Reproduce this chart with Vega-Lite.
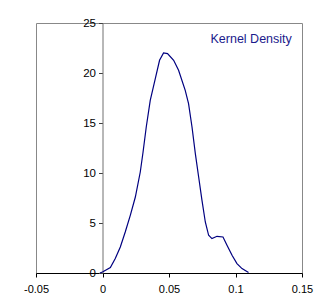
{
  "$schema": "https://vega.github.io/schema/vega-lite/v6.json",
  "autosize": "none",
  "padding": {"left": 36, "top": 23, "right": 26, "bottom": 31},
  "width": 266,
  "height": 250,
  "background": "white",
  "config": {
    "view": {"stroke": "#888888", "strokeWidth": 1},
    "font": "Liberation Sans",
    "axis": {"grid": false, "labelFont": "Liberation Sans", "labelFontSize": 11, "labelColor": "#000000", "tickSize": 4, "title": null, "labelFlush": false, "labelOverlap": false, "labelBound": false}
  },
  "data": {
    "values": [
      {"x": -0.002, "y": 0.0},
      {"x": 0.0, "y": 0.1},
      {"x": 0.0059, "y": 0.54},
      {"x": 0.0096, "y": 1.44},
      {"x": 0.0134, "y": 2.6},
      {"x": 0.0171, "y": 4.1},
      {"x": 0.0209, "y": 5.77},
      {"x": 0.0247, "y": 7.6},
      {"x": 0.0284, "y": 10.1},
      {"x": 0.0305, "y": 12.1},
      {"x": 0.0329, "y": 14.6},
      {"x": 0.0359, "y": 17.27},
      {"x": 0.0397, "y": 19.44},
      {"x": 0.0429, "y": 21.27},
      {"x": 0.0459, "y": 22.0},
      {"x": 0.0489, "y": 21.94},
      {"x": 0.0535, "y": 21.27},
      {"x": 0.0572, "y": 20.27},
      {"x": 0.0622, "y": 18.27},
      {"x": 0.0647, "y": 16.94},
      {"x": 0.0673, "y": 14.6},
      {"x": 0.0698, "y": 11.94},
      {"x": 0.0723, "y": 9.6},
      {"x": 0.0748, "y": 7.27},
      {"x": 0.0773, "y": 5.1},
      {"x": 0.0798, "y": 3.77},
      {"x": 0.0823, "y": 3.44},
      {"x": 0.0861, "y": 3.67},
      {"x": 0.0906, "y": 3.6},
      {"x": 0.0936, "y": 2.77},
      {"x": 0.0974, "y": 1.77},
      {"x": 0.1011, "y": 0.94},
      {"x": 0.1049, "y": 0.44},
      {"x": 0.1098, "y": 0.05}
    ]
  },
  "mark": {"type": "line", "strokeWidth": 1.2, "interpolate": "linear"},
  "encoding": {
    "x": {
      "field": "x", "type": "quantitative",
      "scale": {"domain": [-0.05, 0.15], "nice": false, "zero": false},
      "axis": {
        "values": [-0.05, 0, 0.05, 0.1, 0.15],
        "labelExpr": "replace(format(datum.value, '~g'), '\u2212', '-')",
        "domainColor": "#000000", "tickColor": "#000000", "labelPadding": 6
      }
    },
    "y": {
      "field": "y", "type": "quantitative",
      "scale": {"domain": [0, 25], "nice": false},
      "axis": {
        "values": [0, 5, 10, 15, 20, 25],
        "offset": -66.5,
        "labelFontSize": 11.5,
        "domainColor": "#707070", "tickColor": "#404040", "labelPadding": 3
      }
    },
    "color": {
      "datum": "Kernel Density",
      "scale": {"range": ["#000080"]},
      "legend": {
        "title": null, "orient": "top-right", "offset": 10,
        "symbolOpacity": 0, "symbolSize": 1, "symbolStrokeWidth": 0,
        "labelColor": "#1a1a8c", "labelFontSize": 12.5, "labelFont": "Liberation Sans"
      }
    }
  }
}
